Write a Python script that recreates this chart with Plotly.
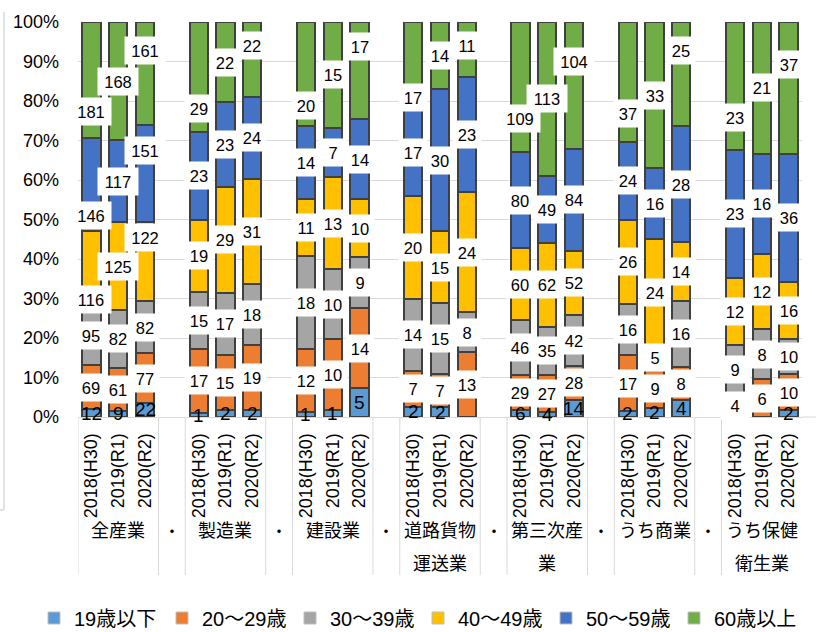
import plotly.graph_objects as go

# ---------------- data ----------------
groups = ["全産業", "製造業", "建設業", "道路貨物\n運送業", "第三次産\n業", "うち商業", "うち保健\n衛生業"]
years = ["2018(H30)", "2019(R1)", "2020(R2)"]
spacer_label = "・"

series_names = ["19歳以下", "20～29歳", "30～39歳", "40～49歳", "50～59歳", "60歳以上"]
age_u19 = [12, 9, 22, 1, 2, 2, 1, 1, 5, 2, 2, None, 6, 4, 14, 2, 2, 4, None, None, 2]
age_20s = [69, 61, 77, 17, 15, 19, 12, 10, 14, 7, 7, 13, 29, 27, 28, 17, 9, 8, 4, 6, 10]
age_30s = [95, 82, 82, 15, 17, 18, 18, 10, 9, 14, 15, 8, 46, 35, 42, 16, 5, 16, 9, 8, 10]
age_40s = [116, 125, 122, 19, 29, 31, 11, 13, 10, 20, 15, 24, 60, 62, 52, 26, 24, 14, 12, 12, 16]
age_50s = [146, 117, 151, 23, 23, 24, 14, 7, 14, 17, 30, 23, 80, 49, 84, 24, 16, 28, 23, 16, 36]
age_60p = [181, 168, 161, 29, 22, 22, 20, 15, 17, 17, 14, 11, 109, 113, 104, 37, 33, 25, 23, 21, 37]
series_vals = [age_u19, age_20s, age_30s, age_40s, age_50s, age_60p]

colors = ["#5B9BD5", "#ED7D31", "#A5A5A5", "#FFC000", "#4472C4", "#70AD47"]
FONT = "Liberation Sans, Arial, Noto Sans CJK JP, sans-serif"

# ---------------- geometry helpers ----------------
n_per = len(years)
step = n_per + 1  # one spacer slot between groups
xpos = [g * step + j for g in range(len(groups)) for j in range(n_per)]
n_slots = len(groups) * step - 1

PLOT_T, PLOT_B = 22, 417
PLOT_L, PLOT_R = 78, 802
def py(px):  # pixel y -> paper y
    return (PLOT_B - px) / (PLOT_B - PLOT_T)
def pxx(px):  # pixel x -> paper x
    return (px - PLOT_L) / (PLOT_R - PLOT_L)

fig = go.Figure()
for name, vals, col in zip(series_names, series_vals, colors):
    fig.add_trace(go.Bar(
        x=xpos, y=[v if v is not None else 0 for v in vals], name=name,
        marker=dict(color=col, line=dict(color="#404040", width=2)),
        width=0.68, showlegend=False, hoverinfo="skip"))
# legend-only traces (thin light outline like the reference)
for name, col in zip(series_names, colors):
    fig.add_trace(go.Bar(x=[None], y=[None], name=name,
                         marker=dict(color=col, line=dict(color="#BFBFBF", width=1))))

# ---------------- data labels ----------------
totals = [sum(s[i] or 0 for s in series_vals) for i in range(len(xpos))]
annotations = []
stagger = [-8, 0, 6]   # spread of crowded label rows (2018 down, 2020 up)
for k, vals in enumerate(series_vals):
    for i, v in enumerate(vals):
        if v is None:
            continue
        base = sum((series_vals[m][i] or 0) for m in range(k)) / totals[i] * 100
        center = base + v / totals[i] * 50
        g0 = (i // n_per) * n_per
        row = [vals[j] for j in range(g0, g0 + n_per) if vals[j] is not None]
        crowded = (k == len(series_vals) - 1) or max(len(str(r)) for r in row) >= 3
        if k > 0 and crowded:
            center = min(center + stagger[i % n_per], 94)
        if k == 0:
            annotations.append(dict(x=xpos[i], y=center, xref="x", yref="y", text=str(v),
                                    showarrow=False, font=dict(size=19, color="#000", family=FONT)))
        else:
            annotations.append(dict(x=xpos[i], y=center, xref="x", yref="y", text=str(v),
                                    showarrow=False, bgcolor="white", borderpad=2, height=23,
                                    width=36 if v >= 100 else 24,
                                    font=dict(size=16.5, color="#000", family=FONT)))

# group labels and spacer dots
for g, lab in enumerate(groups):
    cx = g * step + (n_per - 1) / 2
    for li, line in enumerate(lab.split("\n")):
        annotations.append(dict(x=cx, y=py(531 + li * 33), xref="x", yref="paper", text=line,
                                showarrow=False, yanchor="middle",
                                font=dict(size=18, color="#000", family=FONT)))
    if g < len(groups) - 1:
        annotations.append(dict(x=g * step + n_per, y=py(531), xref="x", yref="paper",
                                text=spacer_label, showarrow=False, yanchor="middle",
                                font=dict(size=16, color="#000", family=FONT)))

# ---------------- shapes ----------------
shapes = []
div_x = [-0.5]
for g in range(len(groups) - 1):
    div_x += [g * step + n_per - 0.5, g * step + n_per + 0.5]
for dx in div_x:
    shapes.append(dict(type="line", xref="x", yref="paper", x0=dx, x1=dx,
                       y0=0, y1=py(575), line=dict(color="#D9D9D9", width=1)))
shapes.append(dict(type="line", xref="paper", yref="paper", x0=1, x1=pxx(816),
                   y0=0, y1=0, line=dict(color="#D9D9D9", width=1)))
shapes.append(dict(type="line", xref="paper", yref="paper", x0=pxx(4), x1=pxx(4),
                   y0=py(12), y1=py(510), line=dict(color="#D9D9D9", width=1.5)))
shapes.append(dict(type="line", xref="paper", yref="paper", x0=pxx(0), x1=pxx(4),
                   y0=py(510), y1=py(510), line=dict(color="#D9D9D9", width=1.5)))

fig.update_layout(
    width=816, height=632,
    margin=dict(l=PLOT_L, r=816 - PLOT_R, t=PLOT_T, b=632 - PLOT_B, autoexpand=False),
    paper_bgcolor="white", plot_bgcolor="white",
    barmode="stack", barnorm="percent", bargap=0,
    font=dict(family=FONT, color="#000"),
    xaxis=dict(range=[-0.5, n_slots - 0.5], tickmode="array", tickvals=xpos,
               ticktext=years * len(groups), tickangle=-90, ticks="",
               tickfont=dict(size=18, family=FONT, color="#000"),
               showgrid=False, zeroline=False, showline=True, linecolor="#D9D9D9",
               ticklabelstandoff=8, fixedrange=True, automargin=False),
    yaxis=dict(range=[0, 100], dtick=10, ticksuffix="%", showgrid=True,
               gridcolor="#D9D9D9", gridwidth=1, zeroline=False,
               tickfont=dict(size=18, family=FONT, color="#000"),
               ticklabelstandoff=18, fixedrange=True, automargin=False),
    legend=dict(orientation="h", x=pxx(34), xanchor="left", y=py(618), yanchor="middle",
                font=dict(size=20, family=FONT, color="#000"), traceorder="normal",
                itemwidth=30, entrywidth=83, entrywidthmode="pixels", tracegroupgap=0),
    annotations=annotations, shapes=shapes,
)

fig.write_html("out.html")
